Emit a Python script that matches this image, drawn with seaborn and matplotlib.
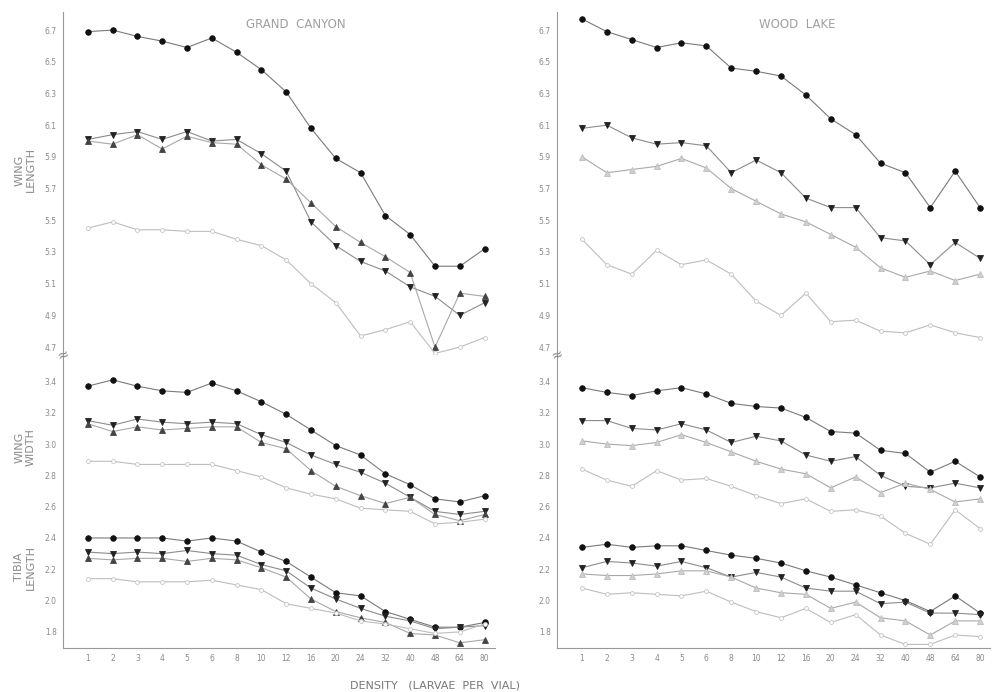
import numpy as np
import pandas as pd
import matplotlib
matplotlib.use("Agg")
import matplotlib.pyplot as plt
import seaborn as sns

# Density categories (larvae per vial), equally spaced on the x axis
density = ["1", "2", "3", "4", "5", "6", "8", "10", "12", "16", "20", "24", "32", "40", "48", "64", "80"]

length_ticks = [4.7, 4.9, 5.1, 5.3, 5.5, 5.7, 5.9, 6.1, 6.3, 6.5, 6.7]
lower_ticks = [1.8, 2.0, 2.2, 2.4, 2.6, 2.8, 3.0, 3.2, 3.4]

# Grand Canyon - wing length
gc_len_1 = [6.69, 6.70, 6.66, 6.63, 6.59, 6.65, 6.56, 6.45, 6.31, 6.08, 5.89, 5.80, 5.53, 5.41, 5.21, 5.21, 5.32]
gc_len_2 = [6.01, 6.04, 6.06, 6.01, 6.06, 6.00, 6.01, 5.92, 5.81, 5.49, 5.34, 5.24, 5.18, 5.08, 5.02, 4.90, 4.98]
gc_len_3 = [6.00, 5.98, 6.04, 5.95, 6.03, 5.99, 5.98, 5.85, 5.76, 5.61, 5.46, 5.36, 5.27, 5.17, 4.70, 5.04, 5.02]
gc_len_4 = [5.45, 5.49, 5.44, 5.44, 5.43, 5.43, 5.38, 5.34, 5.25, 5.10, 4.98, 4.77, 4.81, 4.86, 4.66, 4.70, 4.76]

# Grand Canyon - wing width
gc_wid_1 = [3.37, 3.41, 3.37, 3.34, 3.33, 3.39, 3.34, 3.27, 3.19, 3.09, 2.99, 2.93, 2.81, 2.74, 2.65, 2.63, 2.67]
gc_wid_2 = [3.15, 3.12, 3.16, 3.14, 3.13, 3.14, 3.13, 3.06, 3.01, 2.93, 2.87, 2.82, 2.75, 2.66, 2.57, 2.55, 2.57]
gc_wid_3 = [3.13, 3.08, 3.11, 3.09, 3.10, 3.11, 3.11, 3.01, 2.97, 2.83, 2.73, 2.67, 2.62, 2.66, 2.55, 2.51, 2.55]
gc_wid_4 = [2.89, 2.89, 2.87, 2.87, 2.87, 2.87, 2.83, 2.79, 2.72, 2.68, 2.65, 2.59, 2.58, 2.57, 2.49, 2.50, 2.52]

# Grand Canyon - tibia length
gc_tib_1 = [2.40, 2.40, 2.40, 2.40, 2.38, 2.40, 2.38, 2.31, 2.25, 2.15, 2.05, 2.03, 1.93, 1.88, 1.83, 1.83, 1.86]
gc_tib_2 = [2.31, 2.30, 2.31, 2.30, 2.32, 2.30, 2.29, 2.23, 2.19, 2.08, 2.01, 1.95, 1.90, 1.87, 1.82, 1.83, 1.84]
gc_tib_3 = [2.27, 2.26, 2.27, 2.27, 2.25, 2.27, 2.26, 2.21, 2.15, 2.01, 1.93, 1.89, 1.86, 1.79, 1.78, 1.73, 1.75]
gc_tib_4 = [2.14, 2.14, 2.12, 2.12, 2.12, 2.13, 2.10, 2.07, 1.98, 1.95, 1.92, 1.87, 1.85, 1.82, 1.79, 1.80, 1.85]

# Wood Lake - wing length
wl_len_1 = [6.77, 6.69, 6.64, 6.59, 6.62, 6.60, 6.46, 6.44, 6.41, 6.29, 6.14, 6.04, 5.86, 5.80, 5.58, 5.81, 5.58]
wl_len_2 = [6.08, 6.10, 6.02, 5.98, 5.99, 5.97, 5.80, 5.88, 5.80, 5.64, 5.58, 5.58, 5.39, 5.37, 5.22, 5.36, 5.26]
wl_len_3 = [5.90, 5.80, 5.82, 5.84, 5.89, 5.83, 5.70, 5.62, 5.54, 5.49, 5.41, 5.33, 5.20, 5.14, 5.18, 5.12, 5.16]
wl_len_4 = [5.38, 5.22, 5.16, 5.31, 5.22, 5.25, 5.16, 4.99, 4.90, 5.04, 4.86, 4.87, 4.80, 4.79, 4.84, 4.79, 4.76]

# Wood Lake - wing width
wl_wid_1 = [3.36, 3.33, 3.31, 3.34, 3.36, 3.32, 3.26, 3.24, 3.23, 3.17, 3.08, 3.07, 2.96, 2.94, 2.82, 2.89, 2.79]
wl_wid_2 = [3.15, 3.15, 3.10, 3.09, 3.13, 3.09, 3.01, 3.05, 3.02, 2.93, 2.89, 2.92, 2.80, 2.73, 2.72, 2.75, 2.72]
wl_wid_3 = [3.02, 3.00, 2.99, 3.01, 3.06, 3.01, 2.95, 2.89, 2.84, 2.81, 2.72, 2.79, 2.69, 2.75, 2.71, 2.63, 2.65]
wl_wid_4 = [2.84, 2.77, 2.73, 2.83, 2.77, 2.78, 2.73, 2.67, 2.62, 2.65, 2.57, 2.58, 2.54, 2.43, 2.36, 2.58, 2.46]

# Wood Lake - tibia length
wl_tib_1 = [2.34, 2.36, 2.34, 2.35, 2.35, 2.32, 2.29, 2.27, 2.24, 2.19, 2.15, 2.10, 2.05, 2.00, 1.93, 2.03, 1.92]
wl_tib_2 = [2.21, 2.25, 2.24, 2.22, 2.25, 2.21, 2.15, 2.18, 2.15, 2.08, 2.06, 2.06, 1.98, 1.99, 1.92, 1.92, 1.91]
wl_tib_3 = [2.17, 2.16, 2.16, 2.17, 2.19, 2.19, 2.15, 2.08, 2.05, 2.04, 1.95, 1.99, 1.89, 1.87, 1.78, 1.87, 1.87]
wl_tib_4 = [2.08, 2.04, 2.05, 2.04, 2.03, 2.06, 1.99, 1.93, 1.89, 1.95, 1.86, 1.91, 1.78, 1.72, 1.72, 1.78, 1.77]

sns.set_style("white")
plt.rcParams['font.family'] = ['DejaVu Sans']

TXT = "#8a8a8a"

# series styles: filled circle, down triangle, up triangle, open circle
styles = [
    dict(marker="o", color="#7a7a7a", mfc="#111111", mec="#111111", ms=4, lw=0.8),
    dict(marker="v", color="#8c8c8c", mfc="#222222", mec="#222222", ms=4.5, lw=0.8),
    dict(marker="^", color="#a8a8a8", mfc="#444444", mec="#444444", ms=3.8, lw=0.8),
    dict(marker="o", color="#bdbdbd", mfc="white", mec="#c4c4c4", ms=2.8, lw=0.8),
]

xpos = np.arange(len(density))


def draw(ax, series, light_third=False):
    for k, (vals, st) in enumerate(zip(series, styles)):
        mfc, mec = st["mfc"], st["mec"]
        if light_third and k == 2:
            mfc, mec = "#d0d0d0", "#bdbdbd"
        df = pd.DataFrame({"x": xpos, "y": vals})
        sns.lineplot(data=df, x="x", y="y", ax=ax, color=st["color"], linewidth=st["lw"],
                     marker=st["marker"], markersize=st["ms"], markerfacecolor=mfc,
                     markeredgecolor=mec, markeredgewidth=0.6)


def style_axis(ax, ticks, ylim, show_x):
    ax.set_xlim(-1, 16.4)
    ax.set_ylim(*ylim)
    ax.set_yticks(ticks)
    ax.set_yticklabels([f"{t:.1f}" for t in ticks], fontsize=5.5, color=TXT)
    ax.tick_params(axis="y", direction="out", length=2.5, width=0.6, color="#999999", pad=2)
    for s in ["top", "right"]:
        ax.spines[s].set_visible(False)
    ax.spines["left"].set_color("#999999")
    ax.spines["left"].set_linewidth(0.8)
    ax.set_xlabel("")
    ax.set_ylabel("")
    if show_x:
        ax.set_xticks(xpos)
        ax.set_xticklabels(density, fontsize=5.5, color=TXT)
        ax.tick_params(axis="x", direction="in", length=2, width=0.6, color="#999999", pad=4)
        ax.spines["bottom"].set_color("#999999")
        ax.spines["bottom"].set_linewidth(0.8)
    else:
        ax.spines["bottom"].set_visible(False)
        ax.set_xticks([])


fig = plt.figure(figsize=(9.93, 6.92), dpi=100)

top_ylim = (4.65, 6.814)
low_ylim = (1.697, 3.569)

cols = [
    (0.0634, 0.4346, [gc_len_1, gc_len_2, gc_len_3, gc_len_4],
     [gc_wid_1, gc_wid_2, gc_wid_3, gc_wid_4, gc_tib_1, gc_tib_2, gc_tib_3, gc_tib_4], "GRAND  CANYON", 0.54, False),
    (0.561, 0.436, [wl_len_1, wl_len_2, wl_len_3, wl_len_4],
     [wl_wid_1, wl_wid_2, wl_wid_3, wl_wid_4, wl_tib_1, wl_tib_2, wl_tib_3, wl_tib_4], "WOOD  LAKE", 0.555, True),
]

for left, width, top_series, low_series, title, tx, light in cols:
    ax_top = fig.add_axes([left, 1 - 355 / 692, width, 343 / 692])
    ax_low = fig.add_axes([left, 1 - 648 / 692, width, 293 / 692])
    draw(ax_top, top_series, light)
    draw(ax_low, low_series[:4], light)
    draw(ax_low, low_series[4:], light)
    style_axis(ax_top, length_ticks, top_ylim, False)
    style_axis(ax_low, lower_ticks, low_ylim, True)
    ax_top.text(tx, 0.965, title, transform=ax_top.transAxes, ha="center", va="center",
                fontsize=8.5, color="#a0a0a0")
    ax_low.text(0.0, 1.0, "≈", transform=ax_low.transAxes, ha="center", va="center",
                fontsize=10, color="#8a8a8a", rotation=20)

fig.text(25 / 993, 1 - 170 / 692, "WING\nLENGTH", rotation=90, ha="center", va="center",
         fontsize=8, color=TXT, linespacing=1.2)
fig.text(25 / 993, 1 - 447 / 692, "WING\nWIDTH", rotation=90, ha="center", va="center",
         fontsize=8, color=TXT, linespacing=1.2)
fig.text(25 / 993, 1 - 567 / 692, "TIBIA\nLENGTH", rotation=90, ha="center", va="center",
         fontsize=8, color=TXT, linespacing=1.2)
fig.text(435 / 993, 1 - 686 / 692, "DENSITY   (LARVAE  PER  VIAL)", ha="center", va="center",
         fontsize=8, color="#777777")

fig.savefig("out.png", dpi=100, facecolor="white")
